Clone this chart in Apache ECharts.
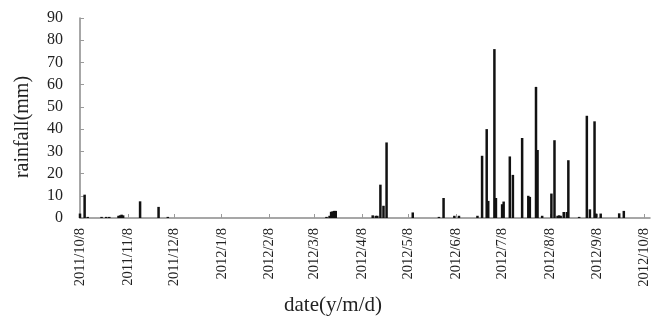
<!DOCTYPE html>
<html>
<head>
<meta charset="utf-8">
<script src="https://cdn.jsdelivr.net/npm/echarts@6/dist/echarts.min.js"></script>
<style>
  html, body { margin: 0; padding: 0; background: #fff; }
  #chart { width: 655px; height: 320px; }
</style>
</head>
<body>
<div id="chart"></div>
<script>
// rainy days and daily rainfall (mm)
const wetDates = [
  '2011/10/8', '2011/10/11', '2011/10/13', '2011/10/22', '2011/10/25', '2011/10/27',
  '2011/11/2', '2011/11/3', '2011/11/4', '2011/11/5', '2011/11/16', '2011/11/28', '2011/12/4',
  '2012/3/16', '2012/3/18', '2012/3/19', '2012/3/20', '2012/3/21', '2012/3/22',
  '2012/4/15', '2012/4/17', '2012/4/18', '2012/4/20', '2012/4/22', '2012/4/24',
  '2012/5/11', '2012/5/28', '2012/5/31',
  '2012/6/7', '2012/6/10', '2012/6/22', '2012/6/25', '2012/6/28', '2012/6/29',
  '2012/7/3', '2012/7/4', '2012/7/8', '2012/7/9', '2012/7/13', '2012/7/15', '2012/7/21',
  '2012/7/25', '2012/7/26', '2012/7/30', '2012/7/31',
  '2012/8/3', '2012/8/9', '2012/8/11', '2012/8/13', '2012/8/14', '2012/8/15', '2012/8/17',
  '2012/8/19', '2012/8/20', '2012/8/27',
  '2012/9/1', '2012/9/3', '2012/9/6', '2012/9/7', '2012/9/10', '2012/9/22', '2012/9/25'
];
const wetRain = [
  2, 10.5, 0.5, 0.5, 0.5, 0.5,
  1, 1.2, 1.5, 1.2, 7.5, 5, 0.5,
  0.5, 1, 2.8, 3, 3.2, 3.2,
  1.2, 1, 1, 15, 5.5, 34,
  2.5, 0.5, 9,
  1, 1, 1, 28, 40, 7.7,
  76, 9, 6.2, 7.4, 27.7, 19.4, 36,
  10, 9.5, 59, 30.6,
  1, 11, 35, 1, 1.2, 1, 2.7,
  2.7, 26, 0.5,
  46, 3.9, 43.5, 2, 2, 2.1, 3.2
];
const yTicks = [0, 10, 20, 30, 40, 50, 60, 70, 80, 90];

// every day from 2011/10/8 to 2012/10/12
const days = [];
for (let d = new Date(2011, 9, 8); d <= new Date(2012, 9, 12); d.setDate(d.getDate() + 1)) {
  days.push(d.getFullYear() + '/' + (d.getMonth() + 1) + '/' + d.getDate());
}
const rain = days.map(function (day) {
  const i = wetDates.indexOf(day);
  return i >= 0 ? wetRain[i] : 0;
});

const isTickDay = function (index, value) {
  return value.split('/')[2] === '8';
};
const serif = 'Liberation Serif';

let myChart = echarts.init(document.getElementById('chart'));
const option = {
  animation: false,
  backgroundColor: '#fff',
  grid: { left: 80, right: 5, top: 18, bottom: 102 },
  xAxis: {
    type: 'category',
    data: days,
    boundaryGap: false,
    axisLine: { lineStyle: { color: '#8a8a8a', width: 1.5 } },
    axisTick: { inside: true, length: 4, interval: isTickDay, lineStyle: { color: '#9a9a9a' } },
    axisLabel: {
      interval: isTickDay,
      rotate: 90,
      margin: 10,
      fontFamily: serif,
      fontSize: 14.5,
      color: '#222'
    },
    splitLine: { show: false }
  },
  yAxis: {
    type: 'value',
    min: yTicks[0],
    max: yTicks[yTicks.length - 1],
    interval: 10,
    axisLine: { show: true, lineStyle: { color: '#8a8a8a', width: 1.5 } },
    axisTick: { show: true, inside: true, length: 4, lineStyle: { color: '#9a9a9a' } },
    axisLabel: { margin: 17, fontFamily: serif, fontSize: 16, color: '#222' },
    splitLine: { show: false }
  },
  graphic: [
    {
      type: 'text',
      x: 333, y: 305,
      style: {
        text: 'date(y/m/d)', fontFamily: serif, fontSize: 21, fill: '#222',
        textAlign: 'center', textVerticalAlign: 'middle'
      }
    },
    {
      type: 'text',
      x: 23, y: 127,
      rotation: Math.PI / 2,
      style: {
        text: 'rainfall(mm)', fontFamily: serif, fontSize: 20, fill: '#222',
        textAlign: 'center', textVerticalAlign: 'middle'
      }
    }
  ],
  series: [{
    type: 'bar',
    data: rain,
    barWidth: 2.5,
    itemStyle: { color: '#111' }
  }]
};
myChart.setOption(option);
</script>
</body>
</html>
